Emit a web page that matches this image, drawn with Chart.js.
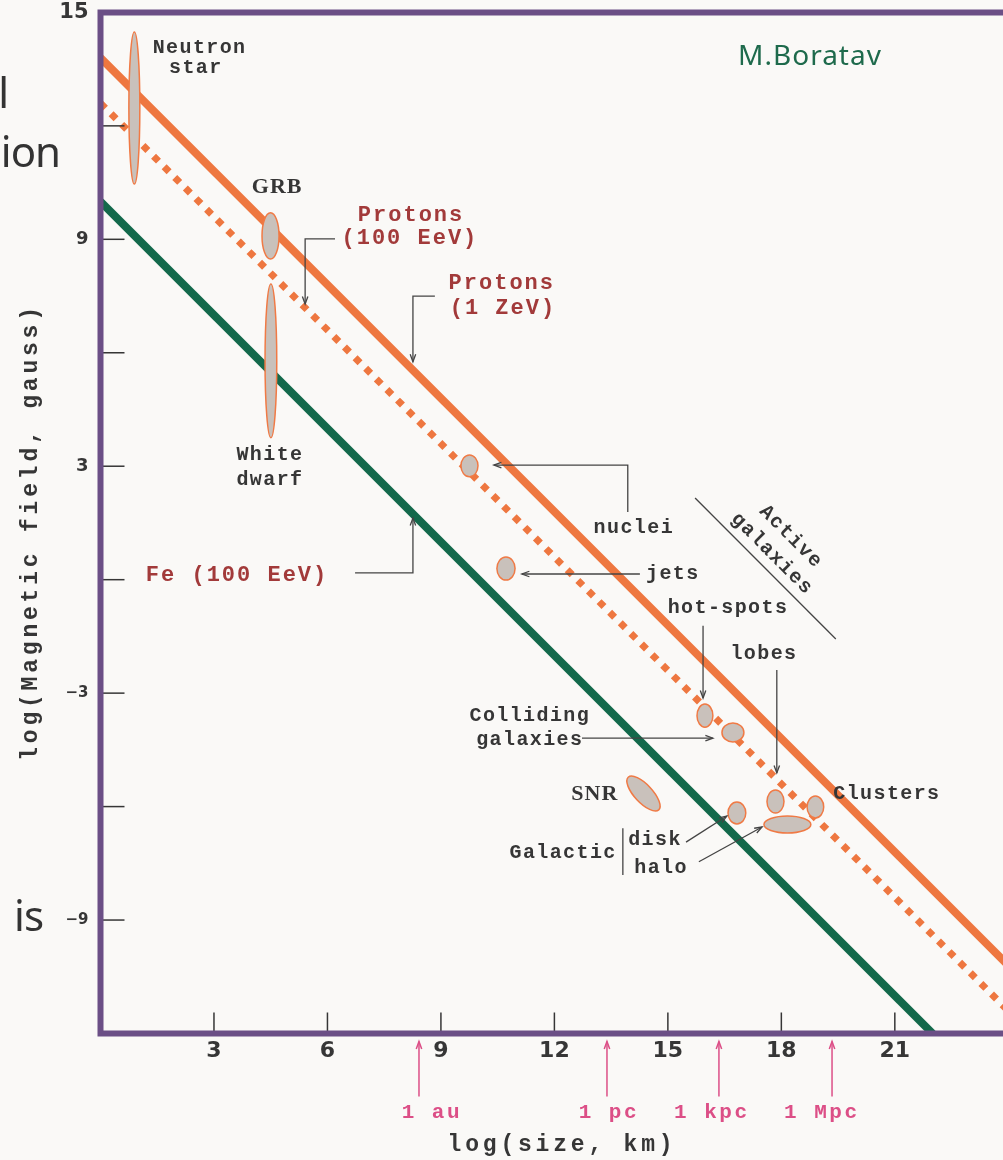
<!DOCTYPE html>
<html>
<head>
<meta charset="utf-8">
<script src="https://cdn.jsdelivr.net/npm/chart.js@4.4.1/dist/chart.umd.min.js"></script>
<style>
  html, body { margin: 0; padding: 0; background: #faf9f7; }
  #wrap { width: 1003px; height: 1160px; }
</style>
</head>
<body>
<div id="wrap"><canvas id="hillas" width="1003" height="1160"></canvas></div>
<script>
// Hillas plot: log(B) against log(size)
const xTicks = [3, 6, 9, 12, 15, 18, 21];
const yTicks = [-12, -9, -6, -3, 0, 3, 6, 9, 12, 15];
const yLabelled = [15, 9, 3, -3, -9];

// maximum-energy limits, straight lines of slope -1
const zevSize = [0, 24];
const zevField = [13.8, -10.2];
const eevSize = [0, 24];
const eevField = [12.6, -11.4];
const feSize = [0, 22];
const feField = [10, -12];

// sources, ranges
const srcNames = ['Neutron star', 'GRB', 'White dwarf', 'AGN nuclei', 'AGN jets', 'Hot-spots',
  'Colliding galaxies', 'SNR', 'Galactic disk', 'Lobes', 'Clusters', 'Galactic halo'];
const srcSizeLo = [0.75, 4.27, 4.35, 9.53, 10.48, 15.77, 16.43, 13.92, 16.59, 17.62, 18.68, 17.54];
const srcSizeHi = [1.04, 4.72, 4.66, 9.98, 10.96, 16.19, 17.01, 14.79, 17.06, 18.07, 19.12, 18.78];
const srcFieldLo = [10.46, 8.48, 3.75, 2.72, -0.01, -3.90, -4.29, -6.12, -6.46, -6.17, -6.30, -6.70];
const srcFieldHi = [14.48, 9.70, 7.82, 3.30, 0.60, -3.29, -3.79, -5.19, -5.88, -5.56, -5.72, -6.25];
const srcTilted = [false, false, false, false, false, false, false, true, false, false, false, false];

// length units marked under the size axis
const unitNames = ['1 au', '1 pc', '1 kpc', '1 Mpc'];
const unitSize = [8.42, 13.39, 16.35, 19.34];
const unitLabelAt = [8.76, 13.44, 16.16, 19.07];

const ORANGE = '#ee7740';
const GREEN = '#13694b';
const PURPLE = '#6b4f86';
const INK = '#363636';
const RED = '#a23a3a';
const PINK = '#dc4f87';

// labels and pointers, in data coordinates
const notes = [
  { t: 'Neutron', x: 2.62, y: 14.07, k: 'mono' },
  { t: 'star', x: 2.52, y: 13.53, k: 'mono' },
  { t: 'GRB', x: 4.67, y: 10.38, k: 'serif' },
  { t: 'Protons', x: 8.21, y: 9.64, k: 'red' },
  { t: '(100 EeV)', x: 8.18, y: 9.01, k: 'red' },
  { t: 'Protons', x: 10.61, y: 7.82, k: 'red' },
  { t: '(1 ZeV)', x: 10.64, y: 7.18, k: 'red' },
  { t: 'White', x: 4.48, y: 3.30, k: 'mono' },
  { t: 'dwarf', x: 4.48, y: 2.64, k: 'mono' },
  { t: 'nuclei', x: 14.10, y: 1.37, k: 'mono' },
  { t: 'jets', x: 15.13, y: 0.15, k: 'mono' },
  { t: 'hot-spots', x: 16.59, y: -0.75, k: 'mono' },
  { t: 'lobes', x: 17.54, y: -1.96, k: 'mono' },
  { t: 'Fe (100 EeV)', x: 3.61, y: 0.12, k: 'red' },
  { t: 'Colliding', x: 11.35, y: -3.60, k: 'mono' },
  { t: 'galaxies', x: 11.35, y: -4.24, k: 'mono' },
  { t: 'SNR', x: 13.07, y: -5.67, k: 'serif' },
  { t: 'Galactic', x: 12.23, y: -7.23, k: 'mono' },
  { t: 'disk', x: 14.66, y: -6.88, k: 'mono' },
  { t: 'halo', x: 14.82, y: -7.62, k: 'mono' },
  { t: 'Clusters', x: 20.79, y: -5.66, k: 'mono' },
  { t: 'Active', x: 18.25, y: 1.13, k: 'mono', rot: Math.PI / 4 },
  { t: 'galaxies', x: 17.75, y: 0.68, k: 'mono', rot: Math.PI / 4 }
];

const pointers = [
  { pts: [[6.20, 9.01], [5.41, 9.01], [5.41, 7.29]], head: true },
  { pts: [[8.84, 7.50], [8.26, 7.50], [8.26, 5.76]], head: true },
  { pts: [[13.94, 1.79], [13.94, 3.03], [10.40, 3.03]], head: true },
  { pts: [[14.26, 0.15], [11.14, 0.15]], head: true },
  { pts: [[6.73, 0.18], [8.26, 0.18], [8.26, 1.63]], head: true },
  { pts: [[15.93, -1.22], [15.93, -3.13]], head: true },
  { pts: [[17.88, -2.39], [17.88, -5.11]], head: true },
  { pts: [[12.73, -4.19], [16.19, -4.19]], head: true },
  { pts: [[15.48, -6.94], [16.56, -6.25]], head: true },
  { pts: [[15.82, -7.46], [17.49, -6.54]], head: true },
  { pts: [[13.81, -6.57], [13.81, -7.81]], head: false },
  { pts: [[15.72, 2.16], [19.44, -1.57]], head: false }
];

const fonts = {
  mono: { font: 'bold 20px "Liberation Mono"', spacing: '1.4px', color: INK },
  red: { font: 'bold 22px "Liberation Mono"', spacing: '2px', color: RED },
  serif: { font: 'bold 22px "Liberation Serif"', spacing: '1px', color: INK },
  pink: { font: 'bold 21px "Liberation Mono"', spacing: '2.5px', color: PINK }
};

function toXY(xs, ys) {
  return xs.map((v, i) => ({ x: v, y: ys[i] }));
}

function arrowHead(ctx, x0, y0, x1, y1) {
  const a = Math.atan2(y1 - y0, x1 - x0);
  const len = 8, spread = 0.35;
  ctx.beginPath();
  ctx.moveTo(x1 - len * Math.cos(a - spread), y1 - len * Math.sin(a - spread));
  ctx.lineTo(x1, y1);
  ctx.lineTo(x1 - len * Math.cos(a + spread), y1 - len * Math.sin(a + spread));
  ctx.stroke();
}

function writeText(ctx, txt, px, py, kind, rot) {
  const f = fonts[kind];
  ctx.save();
  ctx.font = f.font;
  ctx.letterSpacing = f.spacing;
  ctx.fillStyle = f.color;
  ctx.textAlign = 'center';
  ctx.textBaseline = 'middle';
  ctx.translate(px, py);
  if (rot) ctx.rotate(rot);
  ctx.fillText(txt, 0, 0);
  ctx.restore();
}

const hillasPlugin = {
  id: 'hillas',
  beforeDraw(chart) {
    const ctx = chart.ctx;
    ctx.save();
    ctx.fillStyle = '#faf9f7';
    ctx.fillRect(0, 0, chart.width, chart.height);
    ctx.restore();
  },
  afterDraw(chart) {
    const { ctx, chartArea: area } = chart;
    const sx = chart.scales.x, sy = chart.scales.y;
    const X = v => sx.getPixelForValue(v);
    const Y = v => sy.getPixelForValue(v);

    // sources
    srcNames.forEach((name, i) => {
      const x0 = X(srcSizeLo[i]), x1 = X(srcSizeHi[i]);
      const y0 = Y(srcFieldHi[i]), y1 = Y(srcFieldLo[i]);
      const cx = (x0 + x1) / 2, cy = (y0 + y1) / 2;
      const hw = (x1 - x0) / 2, hh = (y1 - y0) / 2;
      ctx.save();
      ctx.beginPath();
      if (srcTilted[i]) {
        const b = 9;
        const a = Math.sqrt(hw * hw + hh * hh - b * b);
        ctx.ellipse(cx, cy, a, b, Math.atan2(hh, hw), 0, Math.PI * 2);
      } else {
        ctx.ellipse(cx, cy, hw, hh, 0, 0, Math.PI * 2);
      }
      ctx.fillStyle = '#c9c1bb';
      ctx.fill();
      ctx.strokeStyle = '#f07a45';
      ctx.lineWidth = 1.5;
      ctx.stroke();
      ctx.restore();
    });

    // pointers
    ctx.save();
    ctx.strokeStyle = '#444';
    ctx.lineWidth = 1.3;
    pointers.forEach(p => {
      const pts = p.pts.map(q => [X(q[0]), Y(q[1])]);
      ctx.beginPath();
      pts.forEach((q, i) => (i ? ctx.lineTo(q[0], q[1]) : ctx.moveTo(q[0], q[1])));
      ctx.stroke();
      if (p.head) {
        const a = pts[pts.length - 2], b = pts[pts.length - 1];
        arrowHead(ctx, a[0], a[1], b[0], b[1]);
      }
    });
    ctx.restore();

    notes.forEach(n => writeText(ctx, n.t, X(n.x), Y(n.y), n.k, n.rot));

    // inward tick marks
    ctx.save();
    ctx.strokeStyle = INK;
    ctx.lineWidth = 1.5;
    yTicks.forEach(v => {
      ctx.beginPath();
      ctx.moveTo(area.left, Y(v));
      ctx.lineTo(area.left + 24, Y(v));
      ctx.stroke();
    });
    xTicks.forEach(v => {
      ctx.beginPath();
      ctx.moveTo(X(v), area.bottom);
      ctx.lineTo(X(v), area.bottom - 21);
      ctx.stroke();
    });
    ctx.restore();

    // frame
    ctx.save();
    ctx.strokeStyle = PURPLE;
    ctx.lineWidth = 6;
    ctx.lineCap = 'square';
    ctx.beginPath();
    ctx.moveTo(area.right + 10, area.top);
    ctx.lineTo(area.left, area.top);
    ctx.lineTo(area.left, area.bottom);
    ctx.lineTo(area.right + 10, area.bottom);
    ctx.stroke();
    ctx.restore();

    // length units under the axis
    ctx.save();
    ctx.strokeStyle = PINK;
    ctx.lineWidth = 1.5;
    unitSize.forEach((v, i) => {
      const px = X(v);
      ctx.beginPath();
      ctx.moveTo(px, area.bottom + 63);
      ctx.lineTo(px, area.bottom + 8);
      ctx.stroke();
      arrowHead(ctx, px, area.bottom + 30, px, area.bottom + 8);
      writeText(ctx, unitNames[i], X(unitLabelAt[i]), area.bottom + 79, 'pink');
    });
    ctx.restore();

    // axis titles
    ctx.save();
    ctx.font = 'bold 23px "Liberation Mono"';
    ctx.letterSpacing = '3.8px';
    ctx.fillStyle = INK;
    ctx.textAlign = 'center';
    ctx.textBaseline = 'middle';
    ctx.fillText('log(size, km)', 562, 1145);
    ctx.translate(31, 532);
    ctx.rotate(-Math.PI / 2);
    ctx.fillText('log(Magnetic field, gauss)', 0, 0);
    ctx.restore();

    // author
    ctx.save();
    ctx.font = '28px "Noto Sans"';
    ctx.letterSpacing = '1px';
    ctx.fillStyle = '#1e6a4c';
    ctx.textAlign = 'center';
    ctx.textBaseline = 'alphabetic';
    ctx.fillText('M.Boratav', 810, 65);
    ctx.restore();

    // fragments of the slide text behind the figure
    ctx.save();
    ctx.font = '42px "Noto Sans"';
    ctx.letterSpacing = '-1px';
    ctx.fillStyle = '#333';
    ctx.textAlign = 'right';
    ctx.fillText('l', 8, 108);
    ctx.fillText('ion', 60, 167);
    ctx.fillText('is', 43, 931);
    ctx.restore();
  }
};

const fmt = v => (v < 0 ? '\u2212' + Math.abs(v) : String(v));

new Chart(document.getElementById('hillas'), {
  type: 'scatter',
  data: {
    datasets: [
      { label: 'Protons (1 ZeV)', data: toXY(zevSize, zevField), showLine: true,
        borderColor: ORANGE, borderWidth: 8, pointRadius: 0 },
      { label: 'Protons (100 EeV)', data: toXY(eevSize, eevField), showLine: true,
        borderColor: ORANGE, borderWidth: 7, borderDash: [7, 8], borderCapStyle: 'butt', pointRadius: 0 },
      { label: 'Fe (100 EeV)', data: toXY(feSize, feField), showLine: true,
        borderColor: GREEN, borderWidth: 8, pointRadius: 0 }
    ]
  },
  options: {
    responsive: false,
    animation: false,
    layout: { padding: { top: 12.4, left: 0, right: 0, bottom: 0 } },
    plugins: { legend: { display: false }, tooltip: { enabled: false } },
    scales: {
      x: {
        type: 'linear', min: 0, max: 23.86,
        grid: { display: false, drawTicks: false },
        border: { display: false },
        afterBuildTicks: s => { s.ticks = xTicks.map(v => ({ value: v })); },
        afterFit: s => { s.height = 126.5; s.paddingLeft = 0; s.paddingRight = 0; },
        ticks: {
          padding: 5, autoSkip: false, maxRotation: 0, color: INK,
          font: { family: 'DejaVu Sans', weight: 'bold', size: 22 },
          callback: v => fmt(v)
        }
      },
      y: {
        type: 'linear', min: -12, max: 15,
        grid: { display: false, drawTicks: false },
        border: { display: false },
        afterBuildTicks: s => { s.ticks = yTicks.map(v => ({ value: v })); },
        afterFit: s => { s.width = 100.5; s.paddingTop = 0; s.paddingBottom = 0; },
        ticks: {
          padding: 12, autoSkip: false, color: INK,
          font: c => {
            const v = c.tick ? c.tick.value : 0;
            return { family: 'DejaVu Sans', weight: 'bold', size: v === 15 ? 21 : (v > 0 ? 18 : 15) };
          },
          callback: v => (yLabelled.includes(v) ? fmt(v) : '')
        }
      }
    }
  },
  plugins: [hillasPlugin]
});
</script>
</body>
</html>
